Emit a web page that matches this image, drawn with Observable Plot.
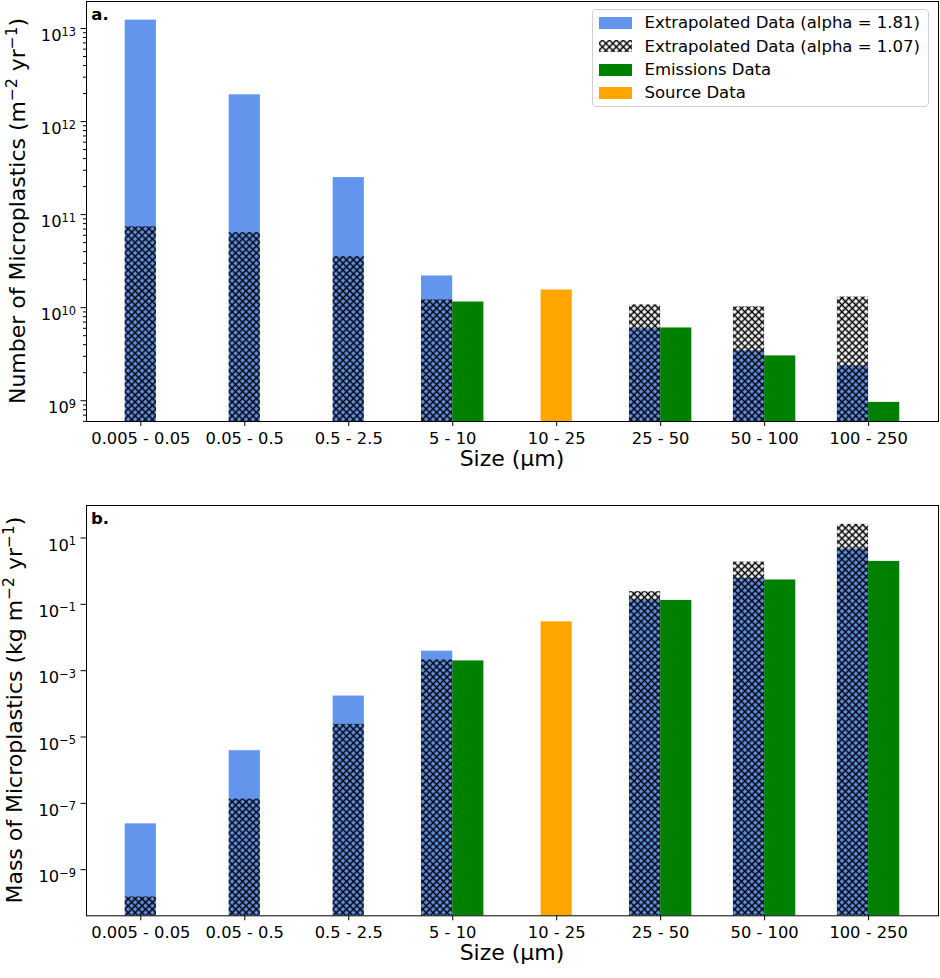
<!DOCTYPE html>
<html>
<head>
<meta charset="utf-8">
<script src="https://cdn.jsdelivr.net/npm/d3@7"></script>
<script src="https://cdn.jsdelivr.net/npm/@observablehq/plot@0.6"></script>
<style>
  html, body { margin: 0; padding: 0; background: #fff; }
  #wrap { position: relative; width: 940px; height: 978px; font-family: "DejaVu Sans", sans-serif; }
  #wrap svg.plot { display: block; }
  .legend { position: absolute; left: 591.5px; top: 9px; width: 337px; height: 98px; box-sizing: border-box;
    border: 1px solid #d0d0d0; border-radius: 4px; background: rgba(255,255,255,0.8); }
  .legend .row { position: absolute; left: 0; height: 23.4px; display: flex; align-items: center; font-size: 16.5px; color: #000; white-space: nowrap; }
  .legend .sw { width: 33px; height: 12px; margin-left: 6px; margin-right: 13px; flex: none; }
</style>
</head>
<body>
<svg width="0" height="0" style="position:absolute">
  <defs>
    <pattern id="xhatch" patternUnits="userSpaceOnUse" width="4.9" height="4.9" patternTransform="rotate(45)">
      <path d="M0,2.45H4.9M2.45,0V4.9" stroke="#000" stroke-width="1.5" fill="none"/>
    </pattern>
  </defs>
</svg>
<div id="wrap"></div>
<script>
// ---------- data ----------
const sizeLabels = ["0.005 - 0.05", "0.05 - 0.5", "0.5 - 2.5", "5 - 10", "10 - 25", "25 - 50", "50 - 100", "100 - 250"];

// panel a: number of microplastics (m^-2 yr^-1)
const numberAlpha181  = [1.23e13, 1.94e12, 2.5e11, 2.19e10, null, 5.94e9, 3.45e9, 2.36e9];
const numberAlpha107  = [7.4e10, 6.4e10, 3.53e10, 1.21e10, null, 1.07e10, 1.02e10, 1.30e10];
const numberEmissions = [null, null, null, 1.15e10, null, 6.05e9, 3.03e9, 9.6e8];
const numberSource    = [null, null, null, null, 1.55e10, null, null, null];

// panel b: mass of microplastics (kg m^-2 yr^-1)
const massAlpha181  = [2.41e-8, 3.87e-6, 1.72e-4, 3.87e-3, null, 0.137, 0.61, 4.66];
const massAlpha107  = [1.5e-10, 1.34e-7, 2.41e-5, 2.1e-3, null, 0.241, 1.88, 25.8];
const massEmissions = [null, null, null, 1.97e-3, null, 0.131, 0.543, 1.97];
const massSource    = [null, null, null, null, 2.96e-2, null, null, null];

const numberMajorTicks = [1e9, 1e10, 1e11, 1e12, 1e13];
const massMajorTicks = [1e-9, 1e-7, 1e-5, 1e-3, 1e-1, 1e1];

const legendLabels = ["Extrapolated Data (alpha = 1.81)", "Extrapolated Data (alpha = 1.07)", "Emissions Data", "Source Data"];

// ---------- styles ----------
const BLUE = "#6495ED", GREEN = "#008000", ORANGE = "#FFA500";
const BAR_W = 0.3;
const X_DOMAIN = [-0.15 - 0.05 * 7.45, 7.3 + 0.05 * 7.45];

function buildBars(a181, a107, emis, src) {
  const rows = [];
  sizeLabels.forEach((label, i) => {
    const paired = emis[i] != null;
    if (a181[i] != null) rows.push({series: "a181", i, v: a181[i], off: paired ? -BAR_W : -BAR_W / 2});
    if (a107[i] != null) rows.push({series: "a107", i, v: a107[i], off: paired ? -BAR_W : -BAR_W / 2});
    if (emis[i] != null) rows.push({series: "emis", i, v: emis[i], off: 0});
    if (src[i] != null) rows.push({series: "src", i, v: src[i], off: -BAR_W / 2});
  });
  return rows;
}

function expLabel(d) {
  return "10^" + String(Math.round(Math.log10(d))).replace("-", "\u2212");
}

function minorTicksFor(domain) {
  const out = [];
  const lo = Math.floor(Math.log10(domain[0])), hi = Math.ceil(Math.log10(domain[1]));
  for (let e = lo; e <= hi; e++) for (let m = 2; m <= 9; m++) {
    const v = m * Math.pow(10, e);
    if (v >= domain[0] && v <= domain[1]) out.push(v);
  }
  return out;
}

function panel({a181, a107, emis, src, yDomain, majorTicks, minor, height, marginTop, marginBottom, letter, yLabel, yLabelX}) {
  const rows = buildBars(a181, a107, emis, src);
  const x1 = d => d.i + d.off, x2 = d => d.i + d.off + BAR_W, y1 = () => yDomain[0];
  const sel = s => rows.filter(d => d.series === s);
  const marks = [
    Plot.rect(sel("a181"), {x1, x2, y1, y2: "v", fill: BLUE, inset: 0}),
    Plot.rect(sel("emis"), {x1, x2, y1, y2: "v", fill: GREEN, inset: 0}),
    Plot.rect(sel("src"), {x1, x2, y1, y2: "v", fill: ORANGE, inset: 0}),
    Plot.rect(sel("a107"), {x1, x2, y1, y2: "v", fill: "url(#xhatch)", inset: 0}),
    Plot.axisX({ticks: d3.range(sizeLabels.length), tickSize: 5, tickPadding: 5.5, tickFormat: i => sizeLabels[i], label: null, stroke: "#000"}),
    Plot.axisY({ticks: majorTicks, tickSize: 5.5, tickPadding: 5, tickFormat: expLabel, label: null})
  ];
  if (minor) marks.push(Plot.axisY({ticks: minorTicksFor(yDomain), tickSize: 3, tickFormat: () => "", label: null}));
  marks.push(Plot.frame({stroke: "#000", strokeWidth: 1}));
  const svg = Plot.plot({
    width: 940, height, marginLeft: 86, marginRight: 2, marginTop, marginBottom,
    style: {fontFamily: "'DejaVu Sans', sans-serif", fontSize: "16.3px", color: "#000", background: "#fff", overflow: "visible"},
    x: {type: "linear", domain: X_DOMAIN, axis: null},
    y: {type: "log", domain: yDomain, axis: null},
    marks
  });
  svg.classList.add("plot");
  const s = d3.select(svg);
  // superscript exponents on y tick labels
  s.selectAll("text").each(function() {
    const t = this.textContent;
    if (t.startsWith("10^")) {
      const e = t.slice(3);
      const el = d3.select(this);
      el.text("").attr("dy", "0.45em");
      el.append("tspan").text("10");
      el.append("tspan").attr("dy", -5.5).attr("font-size", "11.4px").text(e);
    }
  });
  const plotTop = marginTop, plotBottom = height - marginBottom;
  // panel letter
  s.append("text").attr("x", 100).attr("y", plotTop + 19).attr("font-weight", "bold")
    .attr("font-size", "16.5px").attr("fill", "#000").text(letter);
  // x label
  s.append("text").attr("x", 86 + (940 - 2 - 86) / 2).attr("y", plotBottom + 44.7)
    .attr("text-anchor", "middle").attr("font-size", "22px").attr("fill", "#000").text("Size (\u03bcm)");
  // y label with superscripts
  const yl = s.append("text").attr("transform", `translate(${yLabelX},${(plotTop + plotBottom) / 2}) rotate(-90)`)
    .attr("text-anchor", "middle").attr("font-size", "22px").attr("fill", "#000");
  yLabel.forEach(part => {
    if (part.sup) {
      yl.append("tspan").attr("dy", -8).attr("font-size", "15.4px").text(part.sup);
    } else {
      yl.append("tspan").attr("dy", part.reset ? 8 : 0).text(part.t);
    }
  });
  return svg;
}

const wrap = document.getElementById("wrap");

const svgA = panel({
  a181: numberAlpha181, a107: numberAlpha107, emis: numberEmissions, src: numberSource,
  yDomain: [5.98e8, 1.95e13], majorTicks: numberMajorTicks, minor: true,
  height: 490, marginTop: 1, marginBottom: 69, letter: "a.", yLabelX: 25,
  yLabel: [{t: "Number of Microplastics (m"}, {sup: "\u22122"}, {t: " yr", reset: true}, {sup: "\u22121"}, {t: ")", reset: true}]
});
const svgB = panel({
  a181: massAlpha181, a107: massAlpha107, emis: massEmissions, src: massSource,
  yDomain: [4.07e-11, 95.5], majorTicks: massMajorTicks, minor: false,
  height: 488, marginTop: 15, marginBottom: 62.7, letter: "b.", yLabelX: 22,
  yLabel: [{t: "Mass of Microplastics (kg m"}, {sup: "\u22122"}, {t: " yr", reset: true}, {sup: "\u22121"}, {t: ")", reset: true}]
});
wrap.appendChild(svgA);
wrap.appendChild(svgB);

// legend (inside panel a)
const legend = document.createElement("div");
legend.className = "legend";
const swatches = [
  `<svg class="sw" width="33" height="12"><rect width="33" height="12" fill="${BLUE}"/></svg>`,
  `<svg class="sw" width="33" height="12"><rect width="33" height="12" fill="url(#xhatch)"/></svg>`,
  `<svg class="sw" width="33" height="12"><rect width="33" height="12" fill="${GREEN}"/></svg>`,
  `<svg class="sw" width="33" height="12"><rect width="33" height="12" fill="${ORANGE}"/></svg>`
];
legendLabels.forEach((lab, k) => {
  const row = document.createElement("div");
  row.className = "row";
  row.style.top = (1.3 + k * 23.3) + "px";
  row.innerHTML = swatches[k] + `<span>${lab}</span>`;
  legend.appendChild(row);
});
wrap.appendChild(legend);
</script>
</body>
</html>
